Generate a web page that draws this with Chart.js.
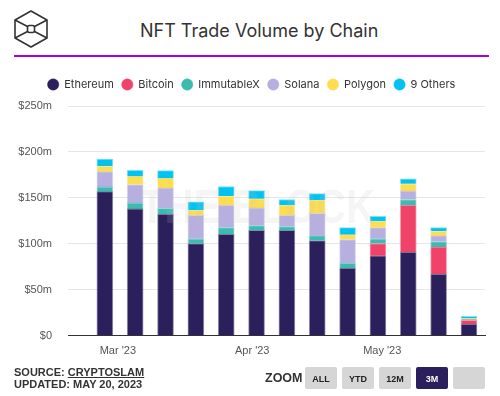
<!DOCTYPE html>
<html>
<head>
<meta charset="utf-8">
<script src="https://cdn.jsdelivr.net/npm/chart.js@4/dist/chart.umd.min.js"></script>
<style>
  html, body { margin: 0; padding: 0; background: #fff; }
  body { width: 500px; height: 396px; position: relative; overflow: hidden; font-family: Inter, "Liberation Sans", sans-serif; }
  #logo { position: absolute; left: 13px; top: 9px; }
  #title { position: absolute; left: 140px; top: 20px; font-size: 18px; line-height: 22px; color: #333; }
  #rule { position: absolute; left: 14px; top: 55px; width: 475px; height: 2px; background: #a100f2; }
  #wrap { position: absolute; left: 0; top: 60px; width: 500px; height: 311px; }
  .foot { position: absolute; left: 14px; font: bold 11px "Liberation Sans", Arial, sans-serif; color: #333; line-height: 12px; }
  .foot u { text-underline-offset: 1px; }
  #zoom { position: absolute; left: 265px; top: 371px; font: bold 12.5px "Liberation Sans", Arial, sans-serif; color: #333; }
  .btn { position: absolute; top: 367px; width: 32px; height: 22px; background: #d6d6d6; border-radius: 2px;
         font: bold 9px "Liberation Sans", Arial, sans-serif; color: #222; text-align: center; line-height: 24px; }
  .btn.on { background: #2b1f5c; color: #fff; }
</style>
</head>
<body>
<svg id="logo" width="36" height="40" viewBox="0 0 36 40">
  <g fill="none" stroke="#333" stroke-width="1.6" stroke-linejoin="round">
    <polygon points="18,2 34,11 34,29 18,38 2,29 2,11"/>
    <line x1="2" y1="11" x2="14.5" y2="17.5"/>
    <line x1="34" y1="11" x2="21.5" y2="17.5"/>
    <line x1="2" y1="29" x2="14.5" y2="22.5"/>
    <line x1="34" y1="29" x2="21.5" y2="22.5"/>
    <rect x="14.5" y="16.5" width="7" height="7" rx="2"/>
  </g>
</svg>
<div id="title">NFT Trade Volume by Chain</div>
<div id="rule"></div>
<div id="wrap"><canvas id="chart" width="500" height="311"></canvas></div>
<div class="foot" style="top:366px">SOURCE: <u>CRYPTOSLAM</u></div>
<div class="foot" style="top:378px">UPDATED: MAY 20, 2023</div>
<div id="zoom">ZOOM</div>
<div class="btn" style="left:305px">ALL</div>
<div class="btn" style="left:342px">YTD</div>
<div class="btn" style="left:379px">12M</div>
<div class="btn on" style="left:416px">3M</div>
<div class="btn" style="left:453px"></div>
<script>
// weekly NFT volume, $m
const weeks = ['2023-02-26', '2023-03-05', '2023-03-12', '2023-03-19', '2023-03-26', '2023-04-02', '2023-04-09',
  '2023-04-16', '2023-04-23', '2023-04-30', '2023-05-07', '2023-05-14', '2023-05-21'];
const ethereum = [156.8, 138.0, 132.5, 100.4, 110.3, 114.8, 114.8, 103.7, 73.8, 87.1, 91.1, 67.2, 12.8];
const bitcoin = [0, 0, 0, 0, 0, 0, 0, 0, 0, 13.3, 51.0, 29.5, 4.1];
const immutablex = [5.2, 6.6, 6.2, 5.1, 7.4, 5.1, 4.0, 5.2, 5.2, 5.1, 6.2, 5.9, 0.8];
const solana = [16.6, 20.0, 22.2, 25.5, 24.4, 19.2, 12.2, 24.3, 25.8, 12.2, 9.3, 6.3, 0.7];
const polygon = [5.9, 8.8, 10.3, 5.5, 9.9, 10.0, 11.1, 14.4, 5.2, 7.0, 7.7, 4.8, 0.7];
const others = [7.7, 6.7, 8.5, 9.3, 10.4, 8.8, 6.2, 7.0, 7.7, 5.2, 5.5, 4.0, 2.2];

const tickDates = ['2023-03-01', '2023-04-01', '2023-05-01'];
const tickLabels = ["Mar '23", "Apr '23", "May '23"];
const yTicks = [0, 50, 100, 150, 200, 250];

const DAY = 86400000;
const toDay = s => Date.parse(s + 'T00:00:00Z') / DAY;
const weekDays = weeks.map(toDay);

const series = [
  { label: 'Ethereum', data: ethereum, color: '#2b1f5c' },
  { label: 'Bitcoin', data: bitcoin, color: '#f04369' },
  { label: 'ImmutableX', data: immutablex, color: '#3cbcb1' },
  { label: 'Solana', data: solana, color: '#b6afe0' },
  { label: 'Polygon', data: polygon, color: '#fedd4e' },
  { label: '9 Others', data: others, color: '#00c3f2' },
];

// faint "THE BLOCK" watermark over the plot
const watermark = {
  id: 'watermark',
  afterDatasetsDraw(chart) {
    const ctx = chart.ctx;
    ctx.save();
    ctx.font = 'bold 48px "Liberation Sans", Arial, sans-serif';
    const w = ctx.measureText('THE BLOCK').width;
    ctx.translate(140, 145);
    ctx.scale(235 / w, 1);
    ctx.fillStyle = 'rgba(190,190,190,0.16)';
    ctx.textBaseline = 'alphabetic';
    ctx.fillText('THE BLOCK', 0, 18);
    ctx.restore();
  }
};

const chart = new Chart(document.getElementById('chart'), {
  type: 'bar',
  data: {
    datasets: series.map(s => ({
      label: s.label,
      data: s.data.map((v, i) => ({ x: weekDays[i], y: v })),
      backgroundColor: s.color,
      borderColor: s.color + '80',
      borderWidth: 1,
      barThickness: 16,
    })),
  },
  options: {
    responsive: false,
    devicePixelRatio: 1,
    animation: false,
    layout: { padding: { left: 18, right: 15, top: 11, bottom: 4 } },
    plugins: {
      tooltip: { enabled: false },
      legend: {
        position: 'top',
        labels: {
          usePointStyle: true,
          pointStyle: 'circle',
          boxWidth: 11,
          boxHeight: 8,
          padding: 8,
          color: '#333',
          font: { family: 'Inter', size: 11 },
        },
      },
    },
    scales: {
      x: {
        type: 'linear',
        stacked: true,
        offset: false,
        min: weekDays[0] - 8.5,
        max: weekDays[weekDays.length - 1] + 3.7,
        afterBuildTicks: axis => { axis.ticks = tickDates.map(d => ({ value: toDay(d) })); },
        grid: { display: false, drawTicks: false },
        border: { display: true, color: '#333', width: 1 },
        ticks: {
          padding: 9,
          color: '#555',
          font: { family: '"Liberation Sans"', size: 11 },
          maxRotation: 0,
          autoSkip: false,
          callback: (v) => tickLabels[tickDates.map(toDay).indexOf(v)],
        },
      },
      y: {
        stacked: true,
        min: 0,
        max: 250,
        afterFit: axis => { axis.width = 50; },
        afterBuildTicks: axis => { axis.ticks = yTicks.map(v => ({ value: v })); },
        grid: { color: '#e6e6e6', drawTicks: false },
        border: { display: false },
        ticks: {
          padding: 16,
          color: '#555',
          font: { family: '"Liberation Sans"', size: 11 },
          callback: v => v === 0 ? '$0' : '$' + v + 'm',
        },
      },
    },
  },
  plugins: [watermark],
});

// more room between the legend and the plot
const legendFit = chart.legend.fit;
chart.legend.fit = function () { legendFit.call(this); this.height += 6; };
chart.update();
</script>
</body>
</html>
